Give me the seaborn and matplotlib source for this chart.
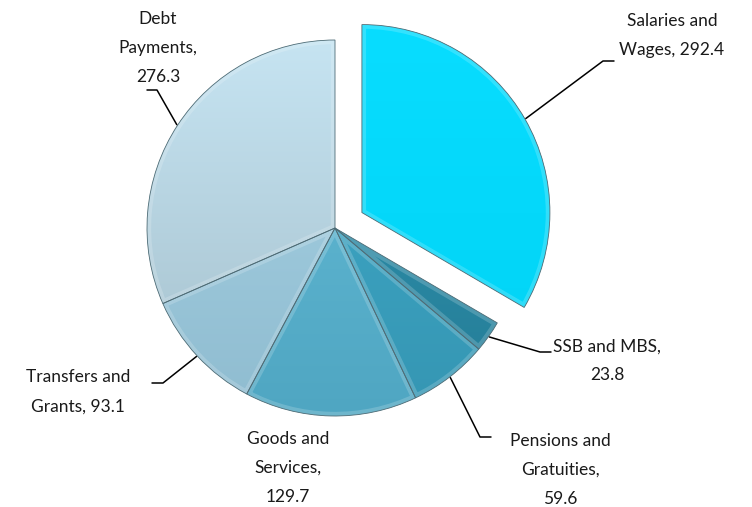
import numpy as np
import matplotlib
matplotlib.use("Agg")
import matplotlib.pyplot as plt
import matplotlib.colors as mcolors
from matplotlib.patches import Wedge
import seaborn as sns

categories = ["Salaries and Wages", "SSB and MBS", "Pensions and Gratuities",
              "Goods and Services", "Transfers and Grants", "Debt Payments"]
values = [292.4, 23.8, 59.6, 129.7, 93.1, 276.3]
label_texts = ["Salaries and\nWages, 292.4", "SSB and MBS,\n23.8",
               "Pensions and\nGratuities,\n59.6", "Goods and\nServices,\n129.7",
               "Transfers and\nGrants, 93.1", "Debt\nPayments,\n276.3"]
explode = [0.165, 0, 0, 0, 0, 0]

# (top colour, bottom colour) per slice
colors_top = ["#08DDFF", "#3497B3", "#41ABCA", "#66BDD8", "#A9D3E5", "#C6E4F2"]
colors_bot = ["#00D3F5", "#237C96", "#3596B3", "#4FA6C2", "#8FBCD0", "#A4BFCB"]

sns.set_theme(style="white")
plt.rcParams["font.family"] = ["Lato", "DejaVu Sans"]

fig = plt.figure(figsize=(7.52, 5.07), dpi=100)
ax = fig.add_axes([0, 0, 1, 1])
ax.axis("off")

cx, cy, R = 335, 279, 188
# matplotlib's explode is in data units, so scale by radius
wedges, _ = ax.pie(values, startangle=90, counterclock=False,
                   explode=[e * R for e in explode],
                   center=(cx, cy), radius=R, colors=colors_top,
                   wedgeprops=dict(edgecolor="#4d6b75", linewidth=0.6))

# vertical gradient fill clipped to each wedge + soft bevel highlight
for w, ct, cb in zip(wedges, colors_top, colors_bot):
    cmap = mcolors.LinearSegmentedColormap.from_list("g", [cb, ct])
    grad = np.linspace(0, 1, 256).reshape(-1, 1)
    wx, wy = w.center
    im = ax.imshow(grad, cmap=cmap, extent=(wx - R, wx + R, wy - R, wy + R),
                   origin="lower", aspect="auto", zorder=1.1)
    im.set_clip_path(w)
    hl = Wedge(w.center, R, w.theta1, w.theta2, facecolor="none",
               edgecolor="white", linewidth=6, alpha=0.18, zorder=1.2)
    ax.add_patch(hl)
    hl.set_clip_path(w)
    w.set_facecolor("none")
    w.set_zorder(1.3)

ax.set_xlim(0, 752)
ax.set_ylim(0, 507)
ax.set_aspect("equal")

# labels: (text x, text y, elbow x, elbow y, end x)
label_pos = [
    (672, 471, 603, 446, 614),
    (607, 146, 540, 155, 551),
    (560, 37, 480, 70, 491),
    (288, 39, None, None, None),
    (78, 115, 163, 124, 152),
    (158, 459, 157, 417, 147),
]
fs = 12.5
for w, txt, (tx, ty, ex, ey, endx) in zip(wedges, label_texts, label_pos):
    ang = np.deg2rad((w.theta1 + w.theta2) / 2)
    wx, wy = w.center
    ax.text(tx, ty, txt, ha="center", va="center", fontsize=fs, color="#1a1a1a",
            linespacing=2.0)
    if ex is not None:
        sx = wx + (R + 1) * np.cos(ang)
        sy = wy + (R + 1) * np.sin(ang)
        ax.plot([sx, ex, endx], [sy, ey, ey], color="black", lw=1.1, zorder=5)

fig.savefig("out.png", dpi=100)
